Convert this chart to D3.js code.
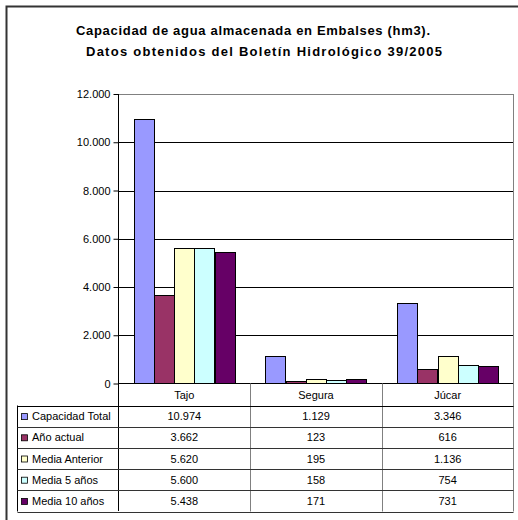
<!DOCTYPE html>
<html>
<head>
<meta charset="utf-8">
<script src="https://cdn.jsdelivr.net/npm/d3@7"></script>
<style>
  body { margin: 0; background: #fff; }
  svg { display: block; font-family: "Liberation Sans", Arial, sans-serif; }
</style>
</head>
<body>
<svg id="chart" width="518" height="520"></svg>
<script>
"use strict"

// Data
const categories = ["Tajo", "Segura", "Júcar"]
const seriesNames = ["Capacidad Total", "Año actual", "Media Anterior", "Media 5 años", "Media 10 años"]
const capacidadTotal = [10974, 1129, 3346]
const anoActual = [3662, 123, 616]
const mediaAnterior = [5620, 195, 1136]
const media5 = [5600, 158, 754]
const media10 = [5438, 171, 731]
const yTicks = [0, 2000, 4000, 6000, 8000, 10000, 12000]
const titleLines = ["Capacidad de agua almacenada en Embalses (hm3).", "Datos obtenidos del Boletín Hidrológico 39/2005"]

const seriesValues = [capacidadTotal, anoActual, mediaAnterior, media5, media10]
const colors = ["#9999FF", "#993366", "#FFFFCC", "#CCFFFF", "#660066"]

const locale = d3.formatLocale({ decimal: ",", thousands: ".", grouping: [3], currency: ["", ""] })
const fmt = locale.format(",d")

const svg = d3.select("#chart")

// outer frame (only top and left edges are visible)
svg.append("path")
   .attr("d", "M6.5,520V6.5H518")
   .attr("fill", "none").attr("stroke", "#333").attr("stroke-width", 2)

// title, stretched like the original's wide spacing
svg.append("g").selectAll("text").data(titleLines).enter().append("text")
   .attr("x", (d, i) => i == 0 ? 76 : 86)
   .attr("y", (d, i) => i == 0 ? 34.5 : 56)
   .attr("font-size", 13).attr("font-weight", "bold")
   .attr("textLength", (d, i) => i == 0 ? 354 : 356)
   .attr("lengthAdjust", "spacing")
   .text(d => d)

const plotLeft = 118.5, plotRight = 513.5, plotTop = 94, zeroY = 383.5

const x0 = d3.scaleBand().domain(categories).range([plotLeft, plotRight]).padding(0)
const x1 = d3.scaleBand().domain(seriesNames).range([0, x0.bandwidth()])
             .paddingInner(0).paddingOuter(0.75)
const y = d3.scaleLinear().domain([0, 12000]).range([zeroY, plotTop])

// gridlines
svg.append("g").selectAll("line").data(yTicks.filter(t => t > 0)).enter().append("line")
   .attr("x1", plotLeft).attr("x2", plotRight)
   .attr("y1", d => Math.round(y(d)) + 0.5).attr("y2", d => Math.round(y(d)) + 0.5)
   .attr("stroke", d => d == 12000 ? "#808080" : "#000")

// right border of plot
svg.append("line")
   .attr("x1", plotRight).attr("x2", plotRight).attr("y1", plotTop).attr("y2", zeroY)
   .attr("stroke", "#808080")

// bars
const groups = svg.append("g").selectAll("g").data(seriesNames).enter().append("g")
   .attr("fill", (d, i) => colors[i])
groups.selectAll("rect")
   .data((s, i) => categories.map((c, j) => ({ s, c, v: seriesValues[i][j] })))
   .enter().append("rect")
   .attr("x", d => Math.round(x0(d.c) + x1(d.s)) + 0.5)
   .attr("width", Math.round(x1.bandwidth()))
   .attr("y", d => Math.round(y(d.v)) + 0.5)
   .attr("height", d => zeroY - Math.round(y(d.v)) - 0.5)
   .attr("stroke", "#000").attr("stroke-width", 1)

// y axis
const yAxis = d3.axisLeft(y).tickValues(yTicks).tickFormat(fmt).tickSize(5).tickPadding(3)
const ya = svg.append("g").attr("transform", `translate(${plotLeft},0)`).call(yAxis)
ya.select(".domain").remove()
ya.selectAll(".tick line").attr("stroke", "#000")
ya.selectAll(".tick text").attr("font-size", 11).attr("font-family", "Liberation Sans, Arial, sans-serif")
   .attr("fill", "#000")
svg.append("line").attr("x1", plotLeft).attr("x2", plotLeft).attr("y1", plotTop).attr("y2", 511)
   .attr("stroke", "#000")

// data table
const rowH = 21.2
const headerBottom = 405.5
const tableLeft = 17.5
const tableBottom = headerBottom + rowH * seriesNames.length

svg.append("line").attr("x1", plotLeft).attr("x2", plotRight).attr("y1", zeroY).attr("y2", zeroY)
   .attr("stroke", "#000")

// column separators
svg.append("g").selectAll("line").data(categories.slice(1)).enter().append("line")
   .attr("x1", d => Math.round(x0(d)) + 0.5).attr("x2", d => Math.round(x0(d)) + 0.5)
   .attr("y1", zeroY).attr("y2", tableBottom)
   .attr("stroke", "#808080")
svg.append("line").attr("x1", plotRight).attr("x2", plotRight).attr("y1", zeroY).attr("y2", tableBottom)
   .attr("stroke", "#808080")
svg.append("line").attr("x1", tableLeft).attr("x2", tableLeft).attr("y1", headerBottom).attr("y2", tableBottom)
   .attr("stroke", "#000")

// row separators
const rowLines = d3.range(seriesNames.length + 1).map(i => headerBottom + i * rowH)
svg.append("g").selectAll("line").data(rowLines).enter().append("line")
   .attr("x1", tableLeft).attr("x2", plotRight)
   .attr("y1", d => Math.round(d) + 0.5).attr("y2", d => Math.round(d) + 0.5)
   .attr("stroke", (d, i) => i == 0 ? "#000" : "#333")

// header labels
svg.append("g").selectAll("text").data(categories).enter().append("text")
   .attr("x", d => x0(d) + x0.bandwidth() / 2)
   .attr("y", (zeroY + headerBottom) / 2 + 4)
   .attr("text-anchor", "middle").attr("font-size", 11)
   .text(d => d)

// rows
const rows = svg.append("g").selectAll("g").data(seriesNames).enter().append("g")
   .attr("transform", (d, i) => `translate(0,${headerBottom + i * rowH + rowH / 2})`)

rows.append("rect")
   .attr("x", 21.5).attr("y", -2.5).attr("width", 6).attr("height", 6)
   .attr("fill", (d, i) => colors[i]).attr("stroke", "#000").attr("stroke-width", 0.8)

rows.append("text")
   .attr("x", 32).attr("y", 4).attr("font-size", 11)
   .text(d => d)

rows.selectAll("text.val")
   .data((s, i) => categories.map((c, j) => ({ c, v: seriesValues[i][j] })))
   .enter().append("text").attr("class", "val")
   .attr("x", d => x0(d.c) + x0.bandwidth() / 2)
   .attr("y", 4).attr("text-anchor", "middle").attr("font-size", 11)
   .text(d => fmt(d.v))
</script>
</body>
</html>
